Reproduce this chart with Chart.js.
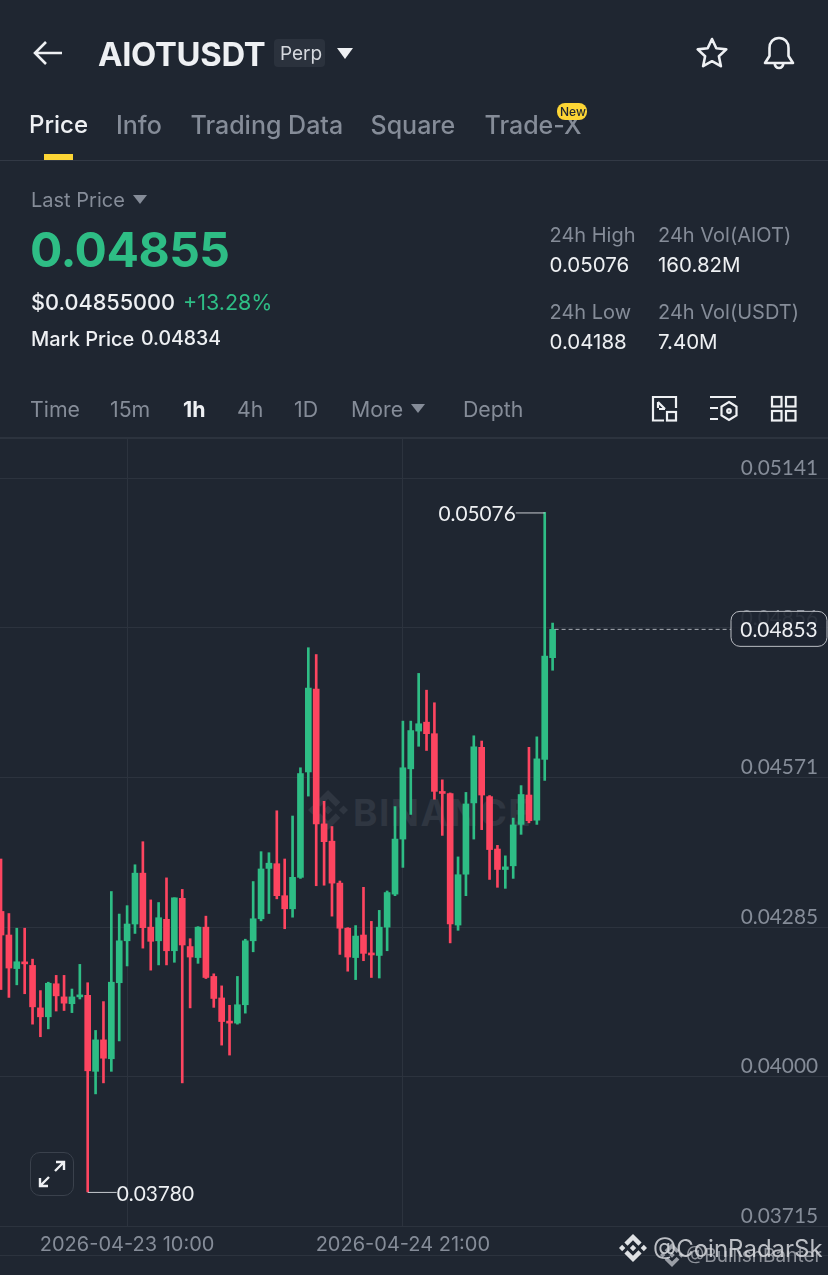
<!DOCTYPE html>
<html>
<head>
<meta charset="utf-8">
<title>AIOTUSDT</title>
<script src="https://cdn.jsdelivr.net/npm/chart.js@4"></script>
<style>
html, body { margin: 0; padding: 0; background: #1f2631; }
body { position: relative; width: 828px; height: 1275px; overflow: hidden; font-family: Inter, "Open Sans", sans-serif; }
canvas { position: absolute; left: 0; top: 0; z-index: 2; }
.t { position: absolute; white-space: nowrap; transform: translateY(-50%); z-index: 3; line-height: 1; }
.grey { color: #858c98; }
.white { color: #eef0f3; }
.green { color: #2ebd85; }
.tab { font-size: 25px; font-weight: 500; top: 125px; }
.label { font-size: 20px; }
.val { font-size: 20.5px; }
.tf { font-size: 21.3px; top: 410px; }
svg { position: absolute; overflow: visible; }
.tri { position: absolute; width: 0; height: 0; border-left: 8px solid transparent; border-right: 8px solid transparent; z-index: 3; }
</style>
</head>
<body>
<svg width="0" height="0"><defs>
<symbol id="bnb" viewBox="0 0 126.61 126.61"><path d="M38.73 53.2l24.59-24.58 24.6 24.6 14.3-14.31L63.32 0 24.42 38.9z"/><path d="M0 63.31l14.3-14.31 14.31 14.31-14.31 14.3z"/><path d="M38.73 73.41l24.59 24.59 24.6-24.6 14.31 14.29-38.9 38.91-38.91-38.88z"/><path d="M98 63.31l14.3-14.31 14.31 14.3-14.31 14.32z"/><path d="M77.83 63.3L63.32 48.78 52.59 59.51l-1.24 1.23-2.54 2.54 14.51 14.5 14.51-14.47z"/></symbol>
</defs></svg>

<!-- header -->
<svg style="left:33px;top:40px" width="30" height="26" fill="none" stroke="#eef0f3" stroke-width="2.6"><path d="M29 13H2M13 2L2 13l11 11"/></svg>
<span class="t white" style="left:98px;top:54px;font-size:32.800px;font-weight:700;letter-spacing:-.3px">AIOTUSDT</span>
<div style="position:absolute;left:274px;top:39px;width:51px;height:28px;background:#2b323d;border-radius:4px"></div>
<span class="t" style="left:280px;top:53px;font-size:19px;color:#d6d9de">Perp</span>
<div class="tri" style="left:337px;top:48px;border-top:11px solid #eef0f3"></div>
<svg style="left:696px;top:37px" width="32" height="32" fill="none" stroke="#eef0f3" stroke-width="2.6" stroke-linejoin="round"><path d="M16 2l4.3 9.2 10 1.2-7.4 6.9 2 9.9-8.9-5-8.9 5 2-9.900-7.4-6.9 10-1.2z"/></svg>
<svg style="left:763px;top:36px" width="32" height="34" fill="none" stroke="#eef0f3" stroke-width="2.6" stroke-linejoin="round"><path d="M16 2c-6 0-9.500 4.500-9.500 10v8L2 27h28l-4.500-7v-8C25.500 6.500 22 2 16 2zM11.500 27c.5 3.500 2.500 5 4.500 5s4-1.500 4.500-5"/></svg>

<span class="t tab white" style="left:29px;font-size:24px">Price</span>
<span class="t tab grey" style="left:116px">Info</span>
<span class="t tab grey" style="left:190.500px">Trading Data</span>
<span class="t tab grey" style="left:370.500px">Square</span>
<span class="t tab grey" style="left:484.500px">Trade-X</span>
<div style="position:absolute;left:557px;top:103px;width:30px;height:17px;background:#fcd535;border-radius:8px;z-index:4"></div>
<span class="t" style="left:560px;top:112px;font-size:12px;font-weight:500;color:#1f2631;z-index:5">New</span>
<div style="position:absolute;left:44px;top:154px;width:29px;height:6px;background:#fcd535"></div>
<div style="position:absolute;left:0;top:160px;width:828px;height:1px;background:#323945"></div>

<span class="t label grey" style="left:31px;top:200px">Last Price</span>
<div class="tri" style="left:133px;top:195px;border-left-width:7px;border-right-width:7px;border-top:9px solid #858c98"></div>
<span class="t green" style="left:30px;top:250px;font-size:48px;font-weight:700;letter-spacing:-.5px">0.04855</span>
<span class="t white" style="left:31px;top:303px;font-size:21.700px;font-weight:500">$0.04855000</span>
<span class="t green" style="left:183px;top:303px;font-size:21.500px">+13.28%</span>
<span class="t white label" style="left:31px;top:339px;font-weight:500">Mark Price</span>
<span class="t white" style="left:141px;top:339px;font-size:19.500px;font-weight:500">0.04834</span>

<span class="t label grey" style="left:549.500px;top:235px">24h High</span>
<span class="t val white" style="left:549.500px;top:265px">0.05076</span>
<span class="t label grey" style="left:658px;top:235px">24h Vol(AIOT)</span>
<span class="t val white" style="left:658px;top:265px">160.82M</span>
<span class="t label grey" style="left:549.500px;top:312px">24h Low</span>
<span class="t val white" style="left:549.500px;top:342px">0.04188</span>
<span class="t label grey" style="left:658px;top:312px">24h Vol(USDT)</span>
<span class="t val white" style="left:658px;top:342px">7.40M</span>

<span class="t tf grey" style="left:30px">Time</span>
<span class="t tf grey" style="left:110px">15m</span>
<span class="t tf white" style="left:183px;font-weight:700">1h</span>
<span class="t tf grey" style="left:237px">4h</span>
<span class="t tf grey" style="left:294px">1D</span>
<span class="t tf grey" style="left:351px">More</span>
<div class="tri" style="left:411px;top:404px;border-left-width:7px;border-right-width:7px;border-top:9px solid #858c98"></div>
<span class="t tf grey" style="left:463px">Depth</span>
<svg style="left:651px;top:395px" width="27" height="27" fill="none" stroke="#eef0f3" stroke-width="2.200"><path d="M13 25.500H2V2h23v11"/><path d="M7 7l7 7M7 13V7M14 14H8"/><rect x="16" y="17" width="9" height="8.500"/></svg>
<svg style="left:710px;top:395px" width="28" height="27" fill="none" stroke="#eef0f3" stroke-width="2.200"><path d="M0 2h26M0 13h8M0 24h8"/><path d="M19 7l7.500 4.500v9L19 25l-7.500-4.500v-9z"/><circle cx="19" cy="16" r="1.800"/></svg>
<svg style="left:771px;top:396px" width="26" height="26" fill="none" stroke="#eef0f3" stroke-width="2.200"><rect x="1" y="1" width="9.500" height="9.500"/><rect x="15" y="1" width="9.500" height="9.500"/><rect x="1" y="15" width="9.500" height="9.500"/><rect x="15" y="15" width="9.500" height="9.500"/></svg>

<!-- chart watermark sits under the canvas so candles stay on top -->
<svg style="left:308px;top:790px;z-index:1" width="40" height="40" fill="#2f3641"><use href="#bnb" width="40" height="40"/></svg>
<span class="t" style="left:353px;top:812px;font-size:37px;font-weight:700;letter-spacing:1.500px;color:#2f3641;z-index:1">BINANCE</span>

<!-- expand button -->
<div style="position:absolute;left:30px;top:1152px;width:42px;height:42px;border:1.500px solid #3a414c;border-radius:10px;z-index:3"></div>
<svg style="left:39px;top:1161px;z-index:3" width="26" height="26" fill="none" stroke="#eef0f3" stroke-width="2.400"><path d="M16 10l9-9M17 1h8v8M10 16l-9 9M1 17v8h8"/></svg>

<!-- screenshot watermarks -->
<svg style="left:619px;top:1234px;z-index:4" width="28" height="28" fill="#dfe1e4"><use href="#bnb" width="28" height="28"/></svg>
<svg style="left:660px;top:1243px;z-index:4" width="24" height="24" fill="#9a9ea6"><use href="#bnb" width="24" height="24"/></svg>
<span class="t" style="left:686px;top:1255px;font-size:19px;color:#8f939b;z-index:4">@BullishBanter</span>
<span class="t" style="left:653px;top:1249px;font-size:24px;color:#d8dade;opacity:.85;z-index:5">@CoinRadarSk</span>

<canvas id="kline" width="828" height="1275"></canvas>

<script>
// hourly candles, first one is 2026-04-22 18:00
var opens = [
	0.04315, 0.04270, 0.04206, 0.04217, 0.04212, 0.04131, 0.04114, 0.04177, 0.04152, 0.04139,
	0.04152, 0.04155, 0.04010, 0.04070, 0.04034, 0.04179, 0.04259, 0.04291, 0.04388, 0.04285,
	0.04259, 0.04300, 0.04240, 0.04340, 0.04248, 0.04227, 0.04285, 0.04191, 0.04150, 0.04105,
	0.04102, 0.04137, 0.04259, 0.04301, 0.04397, 0.04406, 0.04345, 0.04320, 0.04380, 0.04581,
	0.04739, 0.04482, 0.04449, 0.04369, 0.04283, 0.04227, 0.04270, 0.04234, 0.04231, 0.04285,
	0.04348, 0.04453, 0.04587, 0.04659, 0.04676, 0.04654, 0.04543, 0.04540, 0.04289, 0.04386,
	0.04522, 0.04628, 0.04534, 0.04434, 0.04395, 0.04402, 0.04481, 0.04537, 0.04489, 0.04605, 0.04799
];
var closes = [
	0.04270, 0.04207, 0.04219, 0.04215, 0.04133, 0.04114, 0.04178, 0.04154, 0.04140, 0.04152,
	0.04155, 0.04011, 0.04070, 0.04035, 0.04180, 0.04259, 0.04291, 0.04388, 0.04284, 0.04258,
	0.04303, 0.04240, 0.04341, 0.04251, 0.04228, 0.04285, 0.04189, 0.04149, 0.04105, 0.04102,
	0.04137, 0.04259, 0.04301, 0.04396, 0.04407, 0.04345, 0.04320, 0.04380, 0.04578, 0.04741,
	0.04482, 0.04448, 0.04369, 0.04283, 0.04228, 0.04268, 0.04235, 0.04232, 0.04285, 0.04351,
	0.04453, 0.04589, 0.04660, 0.04673, 0.04654, 0.04544, 0.04540, 0.04291, 0.04385, 0.04520,
	0.04629, 0.04537, 0.04433, 0.04395, 0.04400, 0.04480, 0.04538, 0.04488, 0.04606, 0.04802, 0.04853
];
var highs = [
	0.04415, 0.04311, 0.04283, 0.04283, 0.04224, 0.04164, 0.04180, 0.04193, 0.04193, 0.04167,
	0.04214, 0.04179, 0.04088, 0.04143, 0.04353, 0.04310, 0.04326, 0.04404, 0.04448, 0.04337,
	0.04332, 0.04379, 0.04341, 0.04357, 0.04263, 0.04286, 0.04306, 0.04196, 0.04173, 0.04136,
	0.04191, 0.04262, 0.04372, 0.04429, 0.04427, 0.04507, 0.04415, 0.04497, 0.04589, 0.04818,
	0.04805, 0.04525, 0.04477, 0.04373, 0.04284, 0.04288, 0.04361, 0.04296, 0.04317, 0.04354,
	0.04515, 0.04678, 0.04678, 0.04769, 0.04737, 0.04713, 0.04566, 0.04541, 0.04419, 0.04542,
	0.04650, 0.04640, 0.04536, 0.04441, 0.04421, 0.04493, 0.04555, 0.04628, 0.04648, 0.05076, 0.04865
];
var lows = [
	0.04166, 0.04151, 0.04175, 0.04158, 0.04100, 0.04076, 0.04091, 0.04125, 0.04126, 0.04122,
	0.04148, 0.03780, 0.03967, 0.03988, 0.04010, 0.04068, 0.04211, 0.04273, 0.04245, 0.04203,
	0.04213, 0.04213, 0.04218, 0.03988, 0.04131, 0.04216, 0.04187, 0.04132, 0.04060, 0.04041,
	0.04100, 0.04121, 0.04238, 0.04297, 0.04311, 0.04339, 0.04282, 0.04304, 0.04378, 0.04535,
	0.04364, 0.04365, 0.04306, 0.04233, 0.04201, 0.04185, 0.04221, 0.04189, 0.04188, 0.04240,
	0.04345, 0.04399, 0.04500, 0.04630, 0.04622, 0.04529, 0.04460, 0.04255, 0.04279, 0.04345,
	0.04453, 0.04471, 0.04376, 0.04361, 0.04359, 0.04378, 0.04462, 0.04484, 0.04481, 0.04565, 0.04775
];

var priceTicks = [0.05141, 0.04856, 0.04571, 0.04285, 0.04000, 0.03715];
var timeTicks = ["2026-04-23 10:00", "2026-04-24 21:00"];
var timeTickCandles = [16, 51];
var lastPrice = 0.04853;
var highMark = { candle: 69, price: 0.05076 };
var lowMark = { candle: 11, price: 0.03780 };

var upColor = "#2ebd85";
var downColor = "#fd4560";
var gridColor = "#2c333e";

var candleColors = opens.map(function (o, i) { return closes[i] >= o ? upColor : downColor; });

function rangeData(a, b) {
	return a.map(function (v, i) { return { x: i, y: [v, b[i]] }; });
}

// high / low labels, last price line and the outer rules
var marksPlugin = {
	id: "marks",
	beforeDatasetsDraw: function (chart) {
		var c = chart.ctx, area = chart.chartArea;
		c.save();
		c.strokeStyle = gridColor;
		c.lineWidth = 2;
		c.beginPath();
		c.moveTo(0, area.top);
		c.lineTo(828, area.top);
		c.stroke();
		c.lineWidth = 1;
		c.beginPath();
		c.moveTo(0, 1255.5);
		c.lineTo(828, 1255.5);
		c.stroke();
		c.restore();
	},
	afterDraw: function (chart) {
		var c = chart.ctx, x = chart.scales.x, y = chart.scales.y;
		c.save();
		c.font = "20.8px Lato";
		c.textBaseline = "middle";

		var hx = x.getPixelForValue(highMark.candle), hy = y.getPixelForValue(highMark.price);
		c.strokeStyle = "#c9ccd1";
		c.lineWidth = 1;
		c.beginPath();
		c.moveTo(hx, hy + 0.5);
		c.lineTo(hx - 29, hy + 0.5);
		c.stroke();
		c.fillStyle = "#eef0f3";
		c.textAlign = "right";
		c.fillText(highMark.price.toFixed(5), hx - 29, hy + 2);

		var lx = x.getPixelForValue(lowMark.candle), ly = y.getPixelForValue(lowMark.price);
		c.beginPath();
		c.moveTo(lx, ly + 0.5);
		c.lineTo(lx + 29, ly + 0.5);
		c.stroke();
		c.textAlign = "left";
		c.fillText(lowMark.price.toFixed(5), lx + 29, ly + 2);

		var lastX = x.getPixelForValue(opens.length - 1), py = y.getPixelForValue(lastPrice);
		c.strokeStyle = "#a9adb4";
		c.setLineDash([4, 3]);
		c.beginPath();
		c.moveTo(lastX + 2, py);
		c.lineTo(731, py);
		c.stroke();
		c.setLineDash([]);

		c.beginPath();
		c.roundRect(731, py - 18, 96, 35, 9);
		c.fillStyle = "rgba(31,38,49,0.88)";
		c.fill();
		c.strokeStyle = "#b9bcc2";
		c.stroke();
		c.fillStyle = "#eef0f3";
		c.textAlign = "center";
		c.fillText(lastPrice.toFixed(5), 779, py + 1);
		c.restore();
	}
};

new Chart(document.getElementById("kline").getContext("2d"), {
	type: "bar",
	data: {
		datasets: [{
			label: "wick",
			data: rangeData(lows, highs),
			backgroundColor: candleColors,
			barThickness: 2
		}, {
			label: "body",
			data: rangeData(opens, closes),
			backgroundColor: candleColors,
			barThickness: 6,
			minBarLength: 2
		}]
	},
	plugins: [marksPlugin],
	options: {
		responsive: false,
		animation: false,
		devicePixelRatio: 1,
		grouped: false,
		layout: { padding: { top: 438, bottom: 19 } },
		plugins: { legend: { display: false }, tooltip: { enabled: false } },
		scales: {
			x: {
				type: "linear",
				offset: false,
				min: -0.13,
				max: 104.95,
				afterFit: function (s) { s.height = 30; },
				afterBuildTicks: function (s) {
					s.ticks = timeTickCandles.map(function (v) { return { value: v }; });
				},
				ticks: {
					autoSkip: false,
					maxRotation: 0,
					padding: 7,
					color: "#858c98",
					font: { family: "Inter", size: 20 },
					callback: function (v) { return timeTicks[timeTickCandles.indexOf(v)]; }
				},
				grid: { color: gridColor, drawTicks: false, offset: false },
				border: { display: false }
			},
			y: {
				position: "right",
				min: 0.03715,
				max: 0.05218,
				afterFit: function (s) { s.width = 0; },
				afterBuildTicks: function (s) {
					s.ticks = priceTicks.map(function (v) { return { value: v }; });
				},
				ticks: {
					mirror: true,
					padding: -10,
					labelOffset: -10,
					color: "#858c98",
					font: { family: "Lato", size: 20.8 },
					callback: function (v) { return v.toFixed(5); }
				},
				grid: { color: gridColor, drawTicks: false },
				border: { display: false }
			}
		}
	}
});
</script>
</body>
</html>
